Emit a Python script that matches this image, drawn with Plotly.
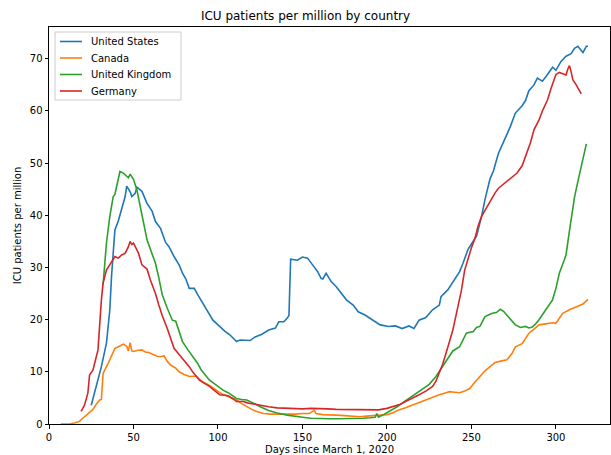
import plotly.graph_objects as go

us_days = [25,28,31,34,36,37,39,41,43,45,46,48,49,51,52,55,58,61,63,66,69,71,74,77,79,81,83,86,88,91,94,97,101,104,107,110,111,113,116,119,122,126,130,134,136,139,141,142,143,147,150,153,156,159,161,162,164,167,170,173,176,180,183,187,192,196,201,205,209,213,216,219,223,227,231,232,236,239,243,245,248,250,253,256,258,261,263,266,268,270,273,276,280,282,284,287,289,292,295,298,300,303,306,309,311,313,316,318,319]
us_vals = [3.6,7.2,11.0,15.5,21.9,28.3,37.2,38.9,41.4,43.5,45.6,44.5,43.6,44.2,45.4,44.6,42.3,40.8,38.8,37.5,34.8,34.0,32.1,30.5,28.9,27.8,26.0,26.0,24.8,23.1,21.5,19.9,18.7,17.8,17.1,16.2,15.8,16.1,16.1,16.0,16.7,17.2,18.0,18.4,19.6,19.6,20.3,20.8,31.6,31.4,32.0,31.8,30.5,29.2,27.9,27.8,28.9,27.3,26.3,25.1,23.8,22.8,21.5,20.9,19.9,19.0,18.7,18.8,18.3,18.8,18.3,19.9,20.4,21.9,22.8,24.4,25.7,27.3,29.2,30.8,33.5,34.5,36.0,39.8,43.0,47.0,48.5,51.9,53.5,54.8,57.0,59.6,61.0,62.0,63.9,65.0,66.3,65.7,67.0,68.4,67.8,69.5,70.5,71.0,72.0,72.4,71.2,72.4,72.4]

ca_days = [7,12,15,18,20,22,24,26,28,30,31,32,35,37,39,41,44,46,47,48,49,50,52,55,57,59,62,64,66,68,70,72,75,77,80,83,87,91,95,99,102,105,108,111,114,117,120,123,127,131,134,138,142,146,150,154,157,158,162,166,170,175,180,184,188,192,196,200,204,207,211,215,219,223,227,231,235,237,240,243,246,249,252,255,258,261,264,268,271,274,276,280,284,287,290,294,298,300,302,304,308,312,316,318,319]
ca_vals = [0,0,0.2,0.5,1.1,1.7,2.3,2.8,3.8,4.6,4.7,9.7,11.6,13.0,14.5,14.8,15.3,14.9,14.0,15.6,14.0,13.9,14.1,14.2,13.8,13.7,13.2,13.0,12.9,13.1,12.0,11.3,10.7,10.0,9.5,9.1,9.2,8.1,7.4,6.5,5.8,5.4,5.0,4.6,3.9,3.3,2.8,2.4,2.0,1.9,1.9,1.8,1.8,1.9,2.0,2.0,2.6,2.0,1.8,1.8,1.7,1.6,1.5,1.4,1.5,1.6,1.6,1.8,2.2,2.7,3.1,3.6,4.1,4.6,5.2,5.6,6.0,6.2,6.1,6.0,6.3,6.8,8.0,9.1,10.2,11.0,11.8,12.1,12.3,13.5,14.8,15.4,17.4,18.2,19.0,19.2,19.4,19.3,20.3,21.2,21.9,22.5,23.0,23.6,23.9]

uk_days = [32,34,36,38,39,41,42,44,46,47,48,50,52,54,56,58,60,62,63,65,67,70,73,75,77,79,82,85,88,90,93,95,98,100,103,106,109,111,114,117,121,125,130,135,141,146,150,155,161,166,171,176,181,186,190,193,194,195,198,203,206,209,213,217,221,225,229,233,236,239,243,245,247,249,251,253,255,258,262,265,267,269,271,274,276,279,282,284,286,288,290,294,298,300,302,305,306,308,309,311,313,315,318]
uk_vals = [26.7,34.7,39.8,43.6,44.0,46.8,48.4,48.1,47.6,47.2,47.9,46.9,44.9,41.4,38.5,35.3,33.4,31.5,30.8,28.0,24.8,22.2,19.9,19.7,17.7,15.8,14.3,12.9,11.6,10.4,9.3,8.4,7.7,7.2,6.5,6.0,5.4,4.9,4.7,4.6,4.0,3.3,2.6,2.1,1.7,1.4,1.3,1.1,1.0,1.0,1.0,1.0,1.1,1.1,1.2,1.3,2.0,1.3,1.8,2.7,3.3,4.0,4.9,5.9,6.8,7.6,9.1,11.0,12.5,14.0,14.8,16.1,17.4,17.6,17.7,18.5,18.7,20.6,21.2,21.4,22.0,21.6,20.9,19.8,19.0,18.5,18.7,18.4,18.6,19.2,20.0,21.9,23.8,26.0,28.9,31.5,32.5,37.0,39.0,43.5,46.5,49.5,53.7]

de_days = [19,21,23,24,26,28,29,31,32,34,37,39,41,43,45,47,48,49,50,53,55,58,60,63,65,67,70,72,74,77,79,81,83,85,87,89,92,95,98,101,104,106,109,111,115,118,122,126,130,135,140,145,150,155,160,165,170,175,180,185,190,195,200,204,208,211,215,219,223,227,229,231,233,235,237,239,241,243,244,246,248,250,252,254,256,258,261,264,266,269,272,275,277,280,282,285,287,290,292,295,297,298,300,302,304,306,307,308,309,310,312,313,315]
de_vals = [2.4,3.6,5.9,9.4,10.3,12.6,14.2,23.8,27.0,29.5,31.1,32.1,31.8,32.4,32.7,34.0,35.0,34.4,34.7,32.7,30.5,29.7,27.6,25.0,22.8,20.8,18.3,16.5,14.5,13.3,12.6,11.9,11.0,10.0,9.2,8.4,7.8,7.2,6.4,5.6,5.5,5.4,4.8,4.3,4.3,4.0,3.8,3.5,3.3,3.1,3.0,3.0,2.9,3.0,3.0,2.9,2.8,2.8,2.8,2.7,2.7,2.7,3.0,3.4,3.8,4.3,4.9,5.6,6.3,7.2,8.2,9.7,11.5,13.6,15.8,18.0,21.0,24.0,25.5,29.5,31.8,33.8,35.5,38.0,39.8,41.0,42.6,44.3,45.2,46.0,46.8,47.5,48.1,49.5,51.3,54.0,56.4,58.3,60.0,62.1,64.2,65.3,67.0,67.4,67.1,66.9,68.0,68.7,67.5,66.0,65.0,64.5,63.3]

series_names = ["United States", "Canada", "United Kingdom", "Germany"]
series_colors = ["#1f77b4", "#ff7f0e", "#2ca02c", "#d62728"]
series_x = [us_days, ca_days, uk_days, de_days]
series_y = [us_vals, ca_vals, uk_vals, de_vals]

x_ticks = [0, 50, 100, 150, 200, 250, 300]
y_ticks = [0, 10, 20, 30, 40, 50, 60, 70]

W, H = 611, 455
ML, MR, MT, MB = 49, 1, 27, 31
PW, PH = W - ML - MR, H - MT - MB

def px_x(p):
    return (p - ML) / PW

def px_y(p):
    return (H - MB - p) / PH

fig = go.Figure()
for name, xs, ys, col in zip(series_names, series_x, series_y, series_colors):
    fig.add_trace(go.Scatter(x=xs, y=ys, mode="lines", name=name, showlegend=False,
                             line=dict(color=col, width=1.6)))

font = "DejaVu Sans"

# legend drawn by hand (matplotlib-style compact legend)
shapes = [dict(type="rect", xref="paper", yref="paper",
               x0=px_x(55), x1=px_x(181), y0=px_y(100), y1=px_y(32),
               line=dict(color="#cccccc", width=1), fillcolor="rgba(255,255,255,0.8)",
               layer="above")]
annotations = []
row_y = [41.5, 58, 74.5, 91]
for i, (name, col) in enumerate(zip(series_names, series_colors)):
    yy = px_y(row_y[i])
    shapes.append(dict(type="line", xref="paper", yref="paper",
                       x0=px_x(60), x1=px_x(82), y0=yy, y1=yy,
                       line=dict(color=col, width=1.6), layer="above"))
    annotations.append(dict(xref="paper", yref="paper", x=px_x(89), y=yy,
                            xanchor="left", yanchor="middle", text=name, showarrow=False,
                            font=dict(size=10, family=font, color="black")))

fig.update_layout(
    template="none",
    width=W, height=H,
    margin=dict(l=ML, r=MR, t=MT, b=MB),
    paper_bgcolor="white", plot_bgcolor="white",
    font=dict(family=font, size=10, color="black"),
    title=dict(text="ICU patients per million by country", x=0.5, xanchor="center",
               y=1 - 16 / H, yanchor="middle", font=dict(size=12, family=font)),
    showlegend=False,
    shapes=shapes,
    annotations=annotations,
    xaxis=dict(range=[0, 332], tickvals=x_ticks, ticks="outside", ticklen=3.5,
               tickcolor="black", showline=True, linecolor="black", linewidth=1,
               mirror=True, showgrid=False, zeroline=False,
               title=dict(text="Days since March 1, 2020", standoff=8,
                          font=dict(size=10, family=font))),
    yaxis=dict(range=[0, 76.1], tickvals=y_ticks, ticks="outside", ticklen=3.5,
               tickcolor="black", showline=True, linecolor="black", linewidth=1,
               mirror=True, showgrid=False, zeroline=False,
               title=dict(text="ICU patients per million", standoff=6,
                          font=dict(size=10, family=font))),
)

fig.write_html("out.html", config={"displayModeBar": False},
               post_script="document.body.style.margin='0';")
